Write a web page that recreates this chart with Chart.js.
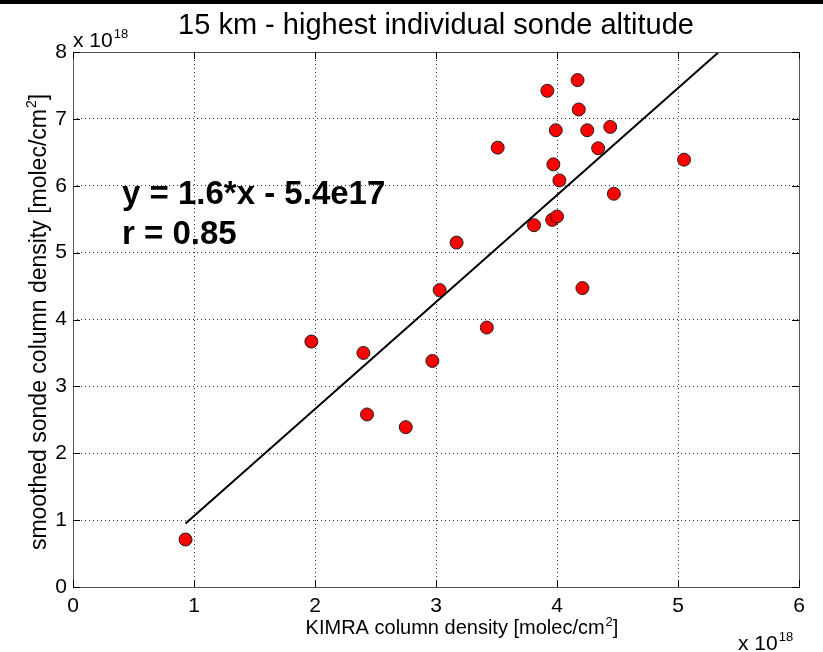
<!DOCTYPE html>
<html>
<head>
<meta charset="utf-8">
<script src="https://cdn.jsdelivr.net/npm/chart.js@4.4.0/dist/chart.umd.min.js"></script>
<style>
  body { margin: 0; background: #fff; }
</style>
</head>
<body>
<canvas id="sondeChart" width="823" height="652"></canvas>
<script>
// column densities, units of 1e18 molec/cm^2
const kimraColumn = [0.93, 1.97, 2.40, 2.97, 2.43, 2.75, 3.03, 3.17, 3.42, 3.51, 3.81, 3.92, 3.96,
                     4.00, 3.97, 3.99, 4.02, 4.17, 4.18, 4.21, 4.25, 4.34, 4.44, 4.47, 5.05];
const sondeColumn = [0.71, 3.67, 3.50, 3.38, 2.58, 2.39, 4.44, 5.15, 3.88, 6.57, 5.41, 7.42, 5.49,
                     5.54, 6.32, 6.83, 6.08, 7.58, 7.14, 4.47, 6.83, 6.56, 6.88, 5.88, 6.39];

// linear fit y = a*x + b (b in 1e18 units)
const fitSlope = 1.6;
const fitIntercept = -0.54;
const fitR = 0.85;

const xTicks = [0, 1, 2, 3, 4, 5, 6];
const yTicks = [0, 1, 2, 3, 4, 5, 6, 7, 8];

const FONT = '"Liberation Sans", Arial, Helvetica, sans-serif';

const points = kimraColumn.map((x, i) => ({ x: x, y: sondeColumn[i] }));

// fit line runs from the smallest x to where it leaves the top of the axes
const yTop = yTicks[yTicks.length - 1];
const fitStart = Math.min(...kimraColumn);
const fitEnd = (yTop - fitIntercept) / fitSlope;
const fitLine = [
    { x: fitStart, y: fitSlope * fitStart + fitIntercept },
    { x: fitEnd, y: fitSlope * fitEnd + fitIntercept }
];

// text with a raised exponent, optionally followed by more text on the baseline
function textWithSup(ctx, base, sup, tail, x, y, size, supSize, align) {
    ctx.font = size + 'px ' + FONT;
    const w1 = ctx.measureText(base).width;
    const w3 = ctx.measureText(tail).width;
    ctx.font = supSize + 'px ' + FONT;
    const w2 = ctx.measureText(sup).width + 1;
    const total = w1 + w2 + w3;
    let left = x;
    if (align === 'center') left = x - total / 2;
    if (align === 'right') left = x - total;
    ctx.textAlign = 'left';
    ctx.textBaseline = 'alphabetic';
    ctx.font = size + 'px ' + FONT;
    ctx.fillText(base, left, y);
    ctx.fillText(tail, left + w1 + w2, y);
    ctx.font = supSize + 'px ' + FONT;
    ctx.fillText(sup, left + w1 + 1, y - size * 0.42);
}

const matlabFrame = {
    id: 'matlabFrame',
    beforeDraw(chart) {
        const ctx = chart.ctx;
        ctx.save();
        ctx.fillStyle = '#fff';
        ctx.fillRect(0, 0, chart.width, chart.height);
        ctx.restore();
    },
    afterDraw(chart) {
        const ctx = chart.ctx;
        const a = chart.chartArea;
        const xs = chart.scales.x, ys = chart.scales.y;
        ctx.save();

        // black strip along the top edge
        ctx.fillStyle = '#000';
        ctx.fillRect(0, 0, chart.width, 4);

        // axes box
        ctx.strokeStyle = '#555';
        ctx.lineWidth = 1;
        ctx.setLineDash([]);
        ctx.strokeRect(Math.round(a.left) + 0.5, Math.round(a.top) + 0.5,
                       Math.round(a.right - a.left), Math.round(a.bottom - a.top));

        // inward ticks on all four sides
        ctx.strokeStyle = '#000';
        ctx.beginPath();
        xTicks.forEach(v => {
            const px = Math.round(xs.getPixelForValue(v)) + 0.5;
            ctx.moveTo(px, a.bottom); ctx.lineTo(px, a.bottom - 7);
            ctx.moveTo(px, a.top); ctx.lineTo(px, a.top + 7);
        });
        yTicks.forEach(v => {
            const py = Math.round(ys.getPixelForValue(v)) + 0.5;
            ctx.moveTo(a.left, py); ctx.lineTo(a.left + 7, py);
            ctx.moveTo(a.right, py); ctx.lineTo(a.right - 7, py);
        });
        ctx.stroke();

        ctx.fillStyle = '#000';

        // title
        ctx.font = '29px ' + FONT;
        ctx.textAlign = 'center';
        ctx.textBaseline = 'alphabetic';
        ctx.fillText('15 km - highest individual sonde altitude', (a.left + a.right) / 2, 34);

        // exponent markers
        textWithSup(ctx, 'x 10', '18', '', a.left, 47, 21, 13, 'left');
        textWithSup(ctx, 'x 10', '18', '', 738, 650, 21, 13, 'left');

        // axis titles
        textWithSup(ctx, 'KIMRA column density [molec/cm', '2', ']', 462, 634, 20, 13, 'center');
        ctx.save();
        ctx.translate(46, 322);
        ctx.rotate(-Math.PI / 2);
        textWithSup(ctx, 'smoothed sonde column density [molec/cm', '2', ']', 0, 0, 23, 14, 'center');
        ctx.restore();

        // fit annotation
        ctx.font = 'bold 33px ' + FONT;
        ctx.textAlign = 'left';
        ctx.fillText('y = ' + fitSlope.toFixed(1) + '*x - ' + (-fitIntercept * 10).toFixed(1) + 'e17', 122, 204);
        ctx.fillText('r = ' + fitR.toFixed(2), 122, 244);

        ctx.restore();
    }
};

const ctx = document.getElementById('sondeChart').getContext('2d');
const sondeChart = new Chart(ctx, {
    type: 'scatter',
    data: {
        datasets: [{
            label: 'fit',
            type: 'line',
            data: fitLine,
            borderColor: '#000',
            borderWidth: 2,
            pointRadius: 0,
            fill: false,
            order: 0
        }, {
            label: 'sonde vs KIMRA',
            data: points,
            backgroundColor: '#ff0000',
            borderColor: '#222',
            borderWidth: 1,
            pointRadius: 6.5,
            order: 1
        }]
    },
    options: {
        responsive: false,
        animation: false,
        layout: { padding: { top: 52, right: 24, bottom: 0, left: 0 } },
        plugins: {
            legend: { display: false },
            tooltip: { enabled: false }
        },
        scales: {
            x: {
                type: 'linear',
                min: xTicks[0],
                max: xTicks[xTicks.length - 1],
                afterBuildTicks: s => { s.ticks = xTicks.map(v => ({ value: v })); },
                afterFit: s => { s.height = 65; },
                ticks: { color: '#000', font: { family: FONT, size: 21 }, padding: 7, maxRotation: 0 },
                grid: {
                    color: c => (c.tick && (c.tick.value === 0 || c.tick.value === 6)) ? 'rgba(0,0,0,0)' : '#333',
                    lineWidth: 1,
                    drawTicks: false
                },
                border: { display: false, dash: [1, 3] }
            },
            y: {
                type: 'linear',
                min: yTicks[0],
                max: yTicks[yTicks.length - 1],
                afterBuildTicks: s => { s.ticks = yTicks.map(v => ({ value: v })); },
                afterFit: s => { s.width = 73; },
                ticks: { color: '#000', font: { family: FONT, size: 21 }, padding: 6 },
                grid: {
                    color: c => (c.tick && (c.tick.value === 0 || c.tick.value === 8)) ? 'rgba(0,0,0,0)' : '#333',
                    lineWidth: 1,
                    drawTicks: false
                },
                border: { display: false, dash: [1, 3] }
            }
        }
    },
    plugins: [matlabFrame]
});
</script>
</body>
</html>
